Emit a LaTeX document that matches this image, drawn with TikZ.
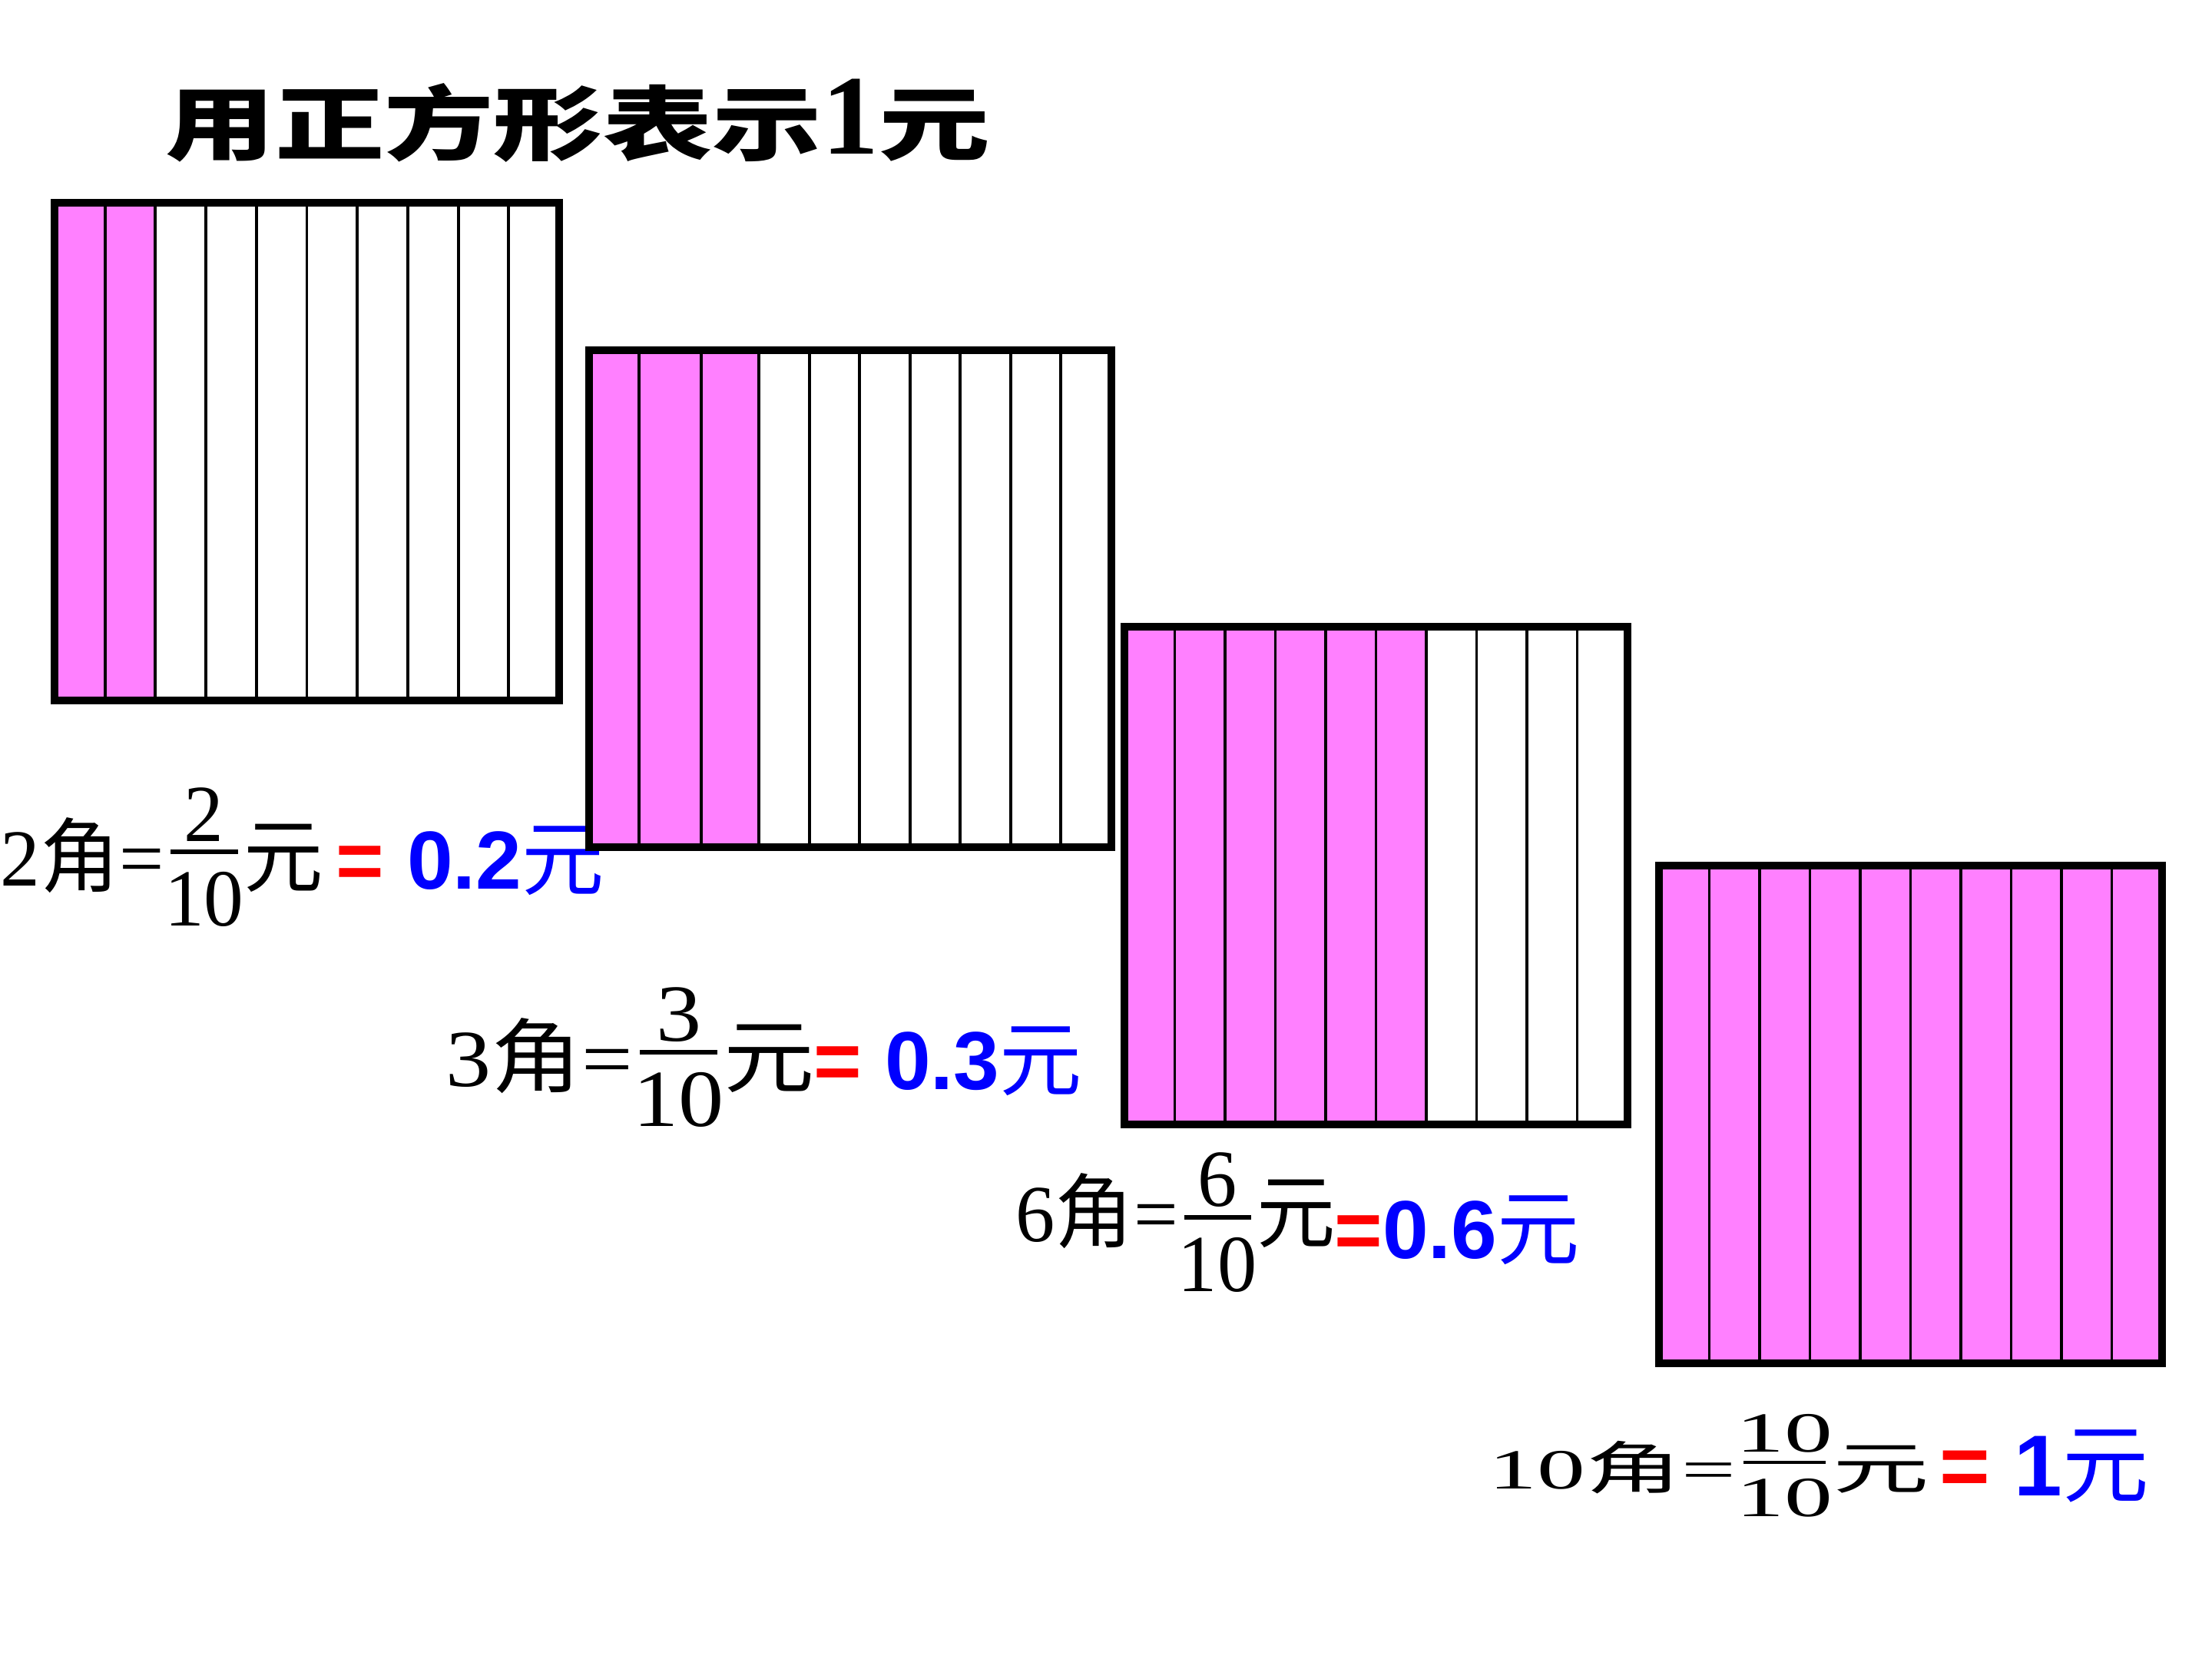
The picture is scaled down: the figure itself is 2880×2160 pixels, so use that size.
\documentclass[tikz,border=0pt]{standalone}
\usepackage{fontspec}
\setmainfont{Liberation Serif}
\newfontfamily\cjk{Noto Sans CJK SC}
\newfontfamily\titlecjk{Noto Sans CJK SC Black}
\newfontfamily\arial{Liberation Sans}
\usetikzlibrary{positioning}
\definecolor{paid}{HTML}{FF80FF}
\definecolor{yuanblue}{HTML}{0000FF}
\definecolor{eqred}{HTML}{FF0000}
\newcommand\tenth[3][-0.5em]{\raisebox{#1}{\shortstack{#2\\\rule{0.85em}{0.06em}\\[0.12em]#3}}}

\begin{document}
\begin{tikzpicture}[
    x=0.01cm,y=-0.01cm,
    frame/.style={draw=black,line width=2.6pt,line join=miter},
    rule/.style={draw=black,line width=1.1pt},
    amt/.style={inner sep=0pt,anchor=base west,font=\fontsize{30}{36}\selectfont},
    val/.style={inner sep=0pt,anchor=base west,text=yuanblue,font=\arial\bfseries\fontsize{30.5}{36}\selectfont}
  ]
    \useasboundingbox (0,0) rectangle (2880,2160);
    \node[inner sep=0pt,anchor=base west] (title) at (215,200) {\scalebox{1.35}[1]{\titlecjk\fontsize{30}{36}\selectfont 用正方形表示}{\fontsize{42}{48}\selectfont\bfseries 1}\scalebox{1.37}[1]{\titlecjk\fontsize{30}{36}\selectfont 元}};

    \node[amt] (a1) at (0,1153) {\scalebox{0.98}[1]{2{\cjk 角}=\tenth{2}{10}{\cjk 元}}};
    \node[val] (v1) at (437,1157) {{\color{eqred}=} 0.2{\cjk\mdseries 元}};
    \node[amt] (a2) at (580,1414) {\scalebox{1.12}[1]{3{\cjk 角}=\tenth{3}{10}{\cjk 元}}};
    \node[val] (v2) at (1059,1418) {{\color{eqred}=} 0.3{\cjk\mdseries 元}};
    \node[amt] (a3) at (1322,1616) {\scalebox{0.97}[1]{6{\cjk 角}=\tenth[-0.62em]{6}{10}{\cjk 元}}};
    \node[val] (v3) at (1737,1638) {{\color{eqred}=}0.6{\cjk\mdseries 元}};
    \node[amt] (a4) at (1938,1938) {\scalebox{1.7}[1]{\fontsize{21}{24}\selectfont 10{\cjk 角}=\tenth{10}{10}{\cjk 元}}};
    \node[val,font=\arial\bfseries\fontsize{32}{38}\selectfont] (v4) at (2525,1947) {{\color{eqred}=} 1{\cjk\mdseries 元}};

    \foreach \x/\y/\w/\n in {71/264/657/2, 1464/816/655/6, 2160/1127/655/10} {
      \fill[white] (\x,\y) rectangle ++(\w,648);
      \fill[paid] (\x,\y) rectangle ++(\n*\w/10,648);
      \foreach \i in {1,...,9}
        \draw[rule] (\x+\i*\w/10,\y) -- ++(0,648);
      \draw[frame] (\x,\y) rectangle ++(\w,648);
    }
    \fill[white] (767,456) rectangle (1447,1103);
    \fill[paid] (767,456) rectangle (988,1103);
    \foreach \c in {832,913,988,1054,1119,1185,1250,1316,1381}
      \draw[rule] (\c,456) -- (\c,1103);
    \draw[frame] (767,456) rectangle (1447,1103);
  \end{tikzpicture}
\end{document}
